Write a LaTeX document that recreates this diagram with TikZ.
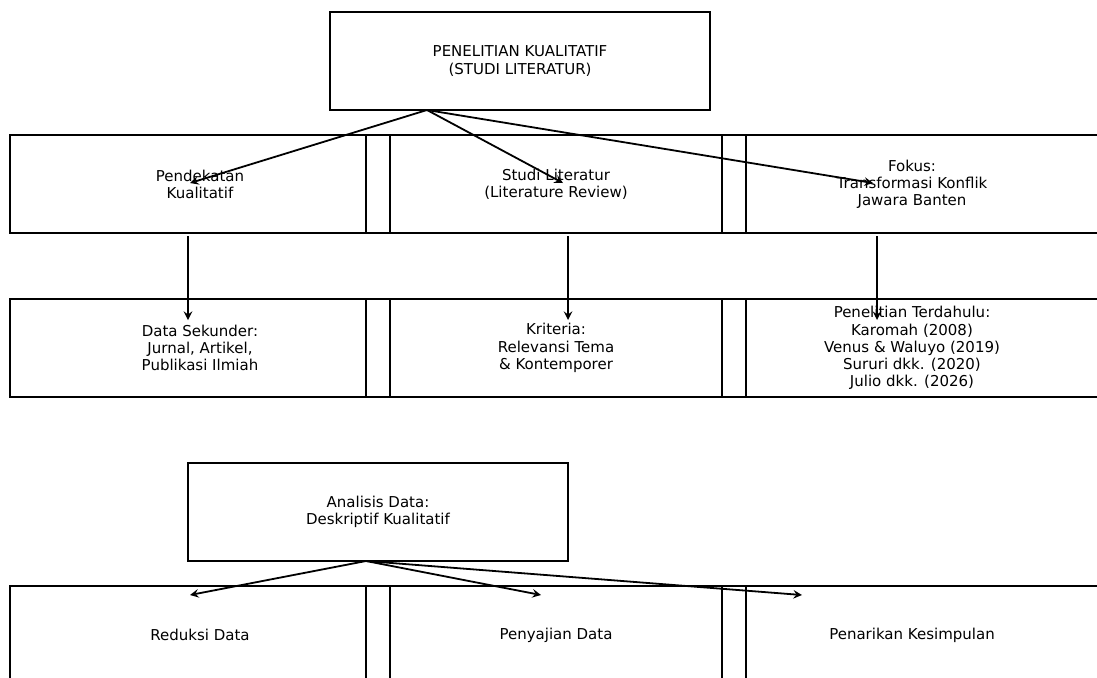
\documentclass[tikz,border=0pt]{standalone}
\usepackage{fontspec}
\setmainfont{DejaVu Sans}
\usepackage{tikz}
\usetikzlibrary{arrows}

\tikzset{
	kotak/.style={draw, line width=1.2pt, minimum width=190pt, minimum height=49pt,
		align=center, inner sep=0pt, font=\fontsize{7.5}{8.6}\selectfont},
	panah/.style={-stealth, line width=0.9pt}
}

\begin{document}
\begin{tikzpicture}[x=0.5pt, y=-0.5pt]
			\useasboundingbox (0,0) rectangle (1097,677);
			\clip (0,0) rectangle (1097,677);
			% kotak utama
			\node[kotak] (utama) at (520,61) {PENELITIAN KUALITATIF\\(STUDI LITERATUR)};
			% baris pertama
			\node[kotak] (pendekatan) at (200,184) {Pendekatan\\Kualitatif};
			\node[kotak] (studi) at (556,184) {Studi Literatur\\(Literature Review)};
			\node[kotak] (fokus) at (912,184) {Fokus:\\Transformasi Konflik\\Jawara Banten};
			% baris kedua
			\node[kotak] (data) at (200,348) {Data Sekunder:\\Jurnal, Artikel,\\Publikasi Ilmiah};
			\node[kotak] (kriteria) at (556,348) {Kriteria:\\Relevansi Tema\\\& Kontemporer};
			\node[kotak] (terdahulu) at (912,348) {Penelitian Terdahulu:\\Karomah (2008)\\Venus \& Waluyo (2019)\\Sururi dkk. (2020)\\Julio dkk. (2026)};
			% analisis
			\node[kotak] (analisis) at (378,512) {Analisis Data:\\Deskriptif Kualitatif};
			\node[kotak] (reduksi) at (200,635) {Reduksi Data};
			\node[kotak] (penyajian) at (556,635) {Penyajian Data};
			\node[kotak] (penarikan) at (912,635) {Penarikan Kesimpulan};
			% titik ujung panah
			\coordinate (a0) at (427,110);
			\coordinate (a1) at (190,183);
			\coordinate (a2) at (563,183);
			\coordinate (a3) at (873,183);
			\coordinate (v1) at (188,236);
			\coordinate (w1) at (188,320);
			\coordinate (v2) at (568,236);
			\coordinate (w2) at (568,320);
			\coordinate (v3) at (877,236);
			\coordinate (w3) at (877,320);
			\coordinate (b0) at (366,561);
			\coordinate (b1) at (190,595);
			\coordinate (b2) at (541,595);
			\coordinate (b3) at (802,595);
			% panah
			\draw[panah] (a0) -- (a1);
			\draw[panah] (a0) -- (a2);
			\draw[panah] (a0) -- (a3);
			\draw[panah] (v1) -- (w1);
			\draw[panah] (v2) -- (w2);
			\draw[panah] (v3) -- (w3);
			\draw[panah] (b0) -- (b1);
			\draw[panah] (b0) -- (b2);
			\draw[panah] (b0) -- (b3);
\end{tikzpicture}
\end{document}
